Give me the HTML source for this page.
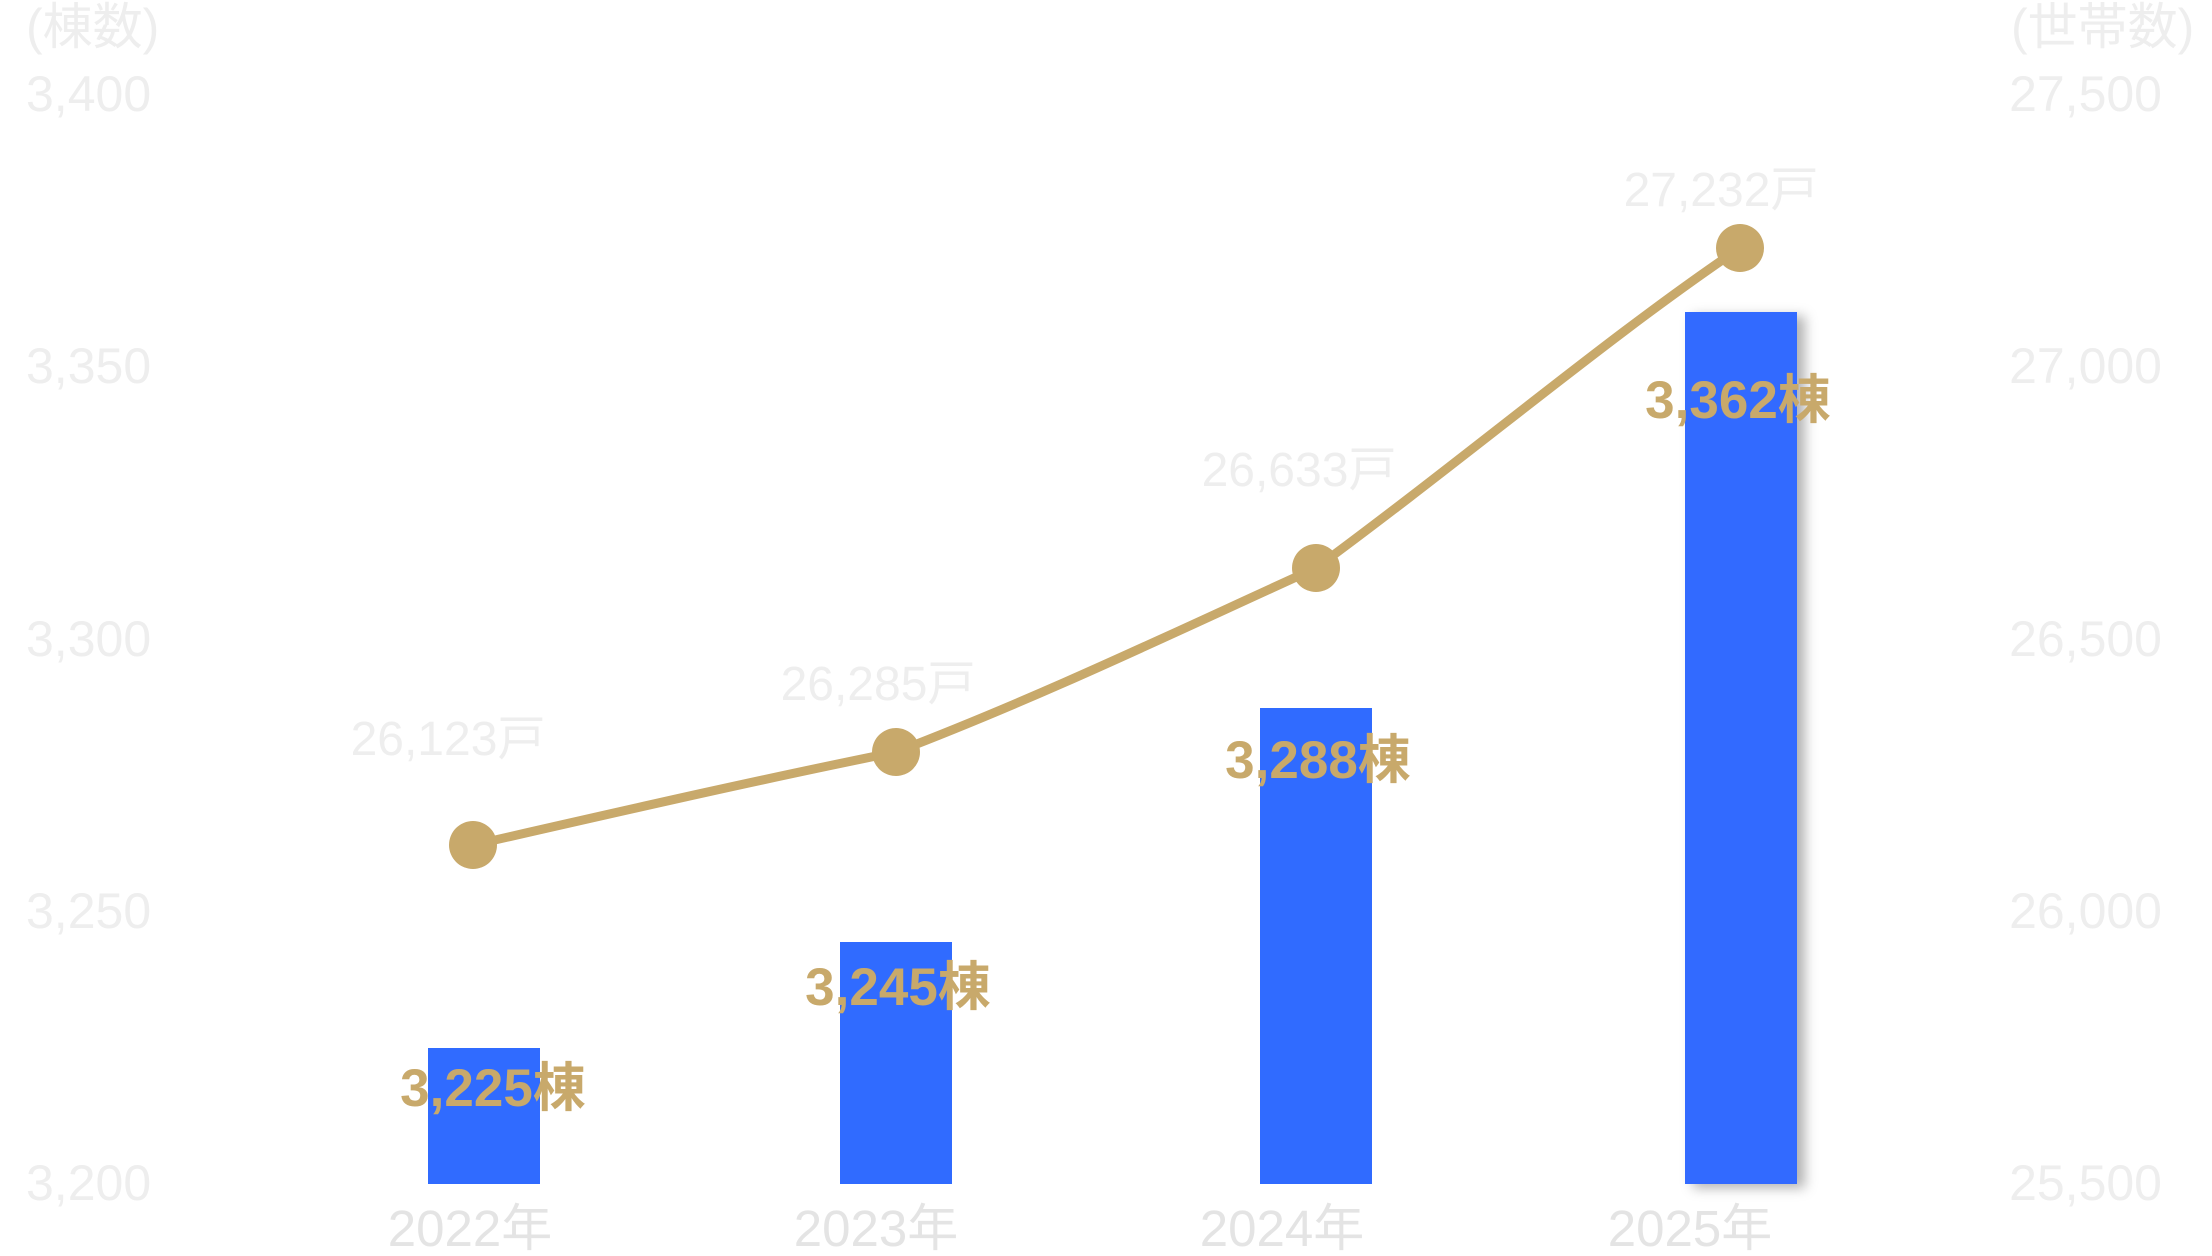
<!DOCTYPE html>
<html><head><meta charset="utf-8"><style>
html,body{margin:0;padding:0;background:#fff;}
svg{display:block;}
</style></head><body>
<svg width="2212" height="1256" viewBox="0 0 2212 1256" xmlns="http://www.w3.org/2000/svg" font-family="'Liberation Sans','Noto Sans CJK JP',sans-serif">
<defs>
<filter id="sh" x="-30%" y="-10%" width="160%" height="120%">
<feDropShadow dx="8" dy="4" stdDeviation="6" flood-color="#000" flood-opacity="0.3"/>
</filter>
</defs>
<g fill="#eeeeee" font-size="50">
<text x="26" y="44" font-size="50">(棟数)</text>
<text x="2011" y="44" font-size="50">(世帯数)</text>
<text x="26" y="111">3,400</text>
<text x="26" y="383">3,350</text>
<text x="26" y="656">3,300</text>
<text x="26" y="928">3,250</text>
<text x="26" y="1200">3,200</text>
<text x="2162" y="111" text-anchor="end">27,500</text>
<text x="2162" y="383" text-anchor="end">27,000</text>
<text x="2162" y="656" text-anchor="end">26,500</text>
<text x="2162" y="928" text-anchor="end">26,000</text>
<text x="2162" y="1200" text-anchor="end">25,500</text>
</g>
<g fill="#e4e4e4" font-size="51" text-anchor="middle">
<text x="470" y="1246">2022年</text>
<text x="876" y="1246">2023年</text>
<text x="1282" y="1246">2024年</text>
<text x="1690" y="1246">2025年</text>
</g>
<g fill="#306bff">
<rect x="428" y="1048" width="112" height="136"/>
<rect x="840" y="942" width="112" height="242"/>
<rect x="1260" y="708" width="112" height="476"/>
<rect x="1685" y="312" width="112" height="872" filter="url(#sh)"/>
</g>
<path d="M473,845 C618,812 757,780 896,752 C1045,695 1175,632 1316,568 C1472,453 1612,334 1740,248" fill="none" stroke="#c8a96b" stroke-width="9"/>
<g fill="#c8a96b">
<circle cx="473" cy="845" r="24"/>
<circle cx="896" cy="752" r="24"/>
<circle cx="1316" cy="568" r="24"/>
<circle cx="1740" cy="248" r="24"/>
</g>
<g fill="#eeeeee" font-size="48" text-anchor="middle">
<text x="448" y="755">26,123戸</text>
<text x="878" y="700">26,285戸</text>
<text x="1299" y="486">26,633戸</text>
<text x="1721" y="206">27,232戸</text>
</g>
<g fill="#c8a96b" font-size="53" font-weight="bold" text-anchor="middle">
<text x="493" y="1106">3,225棟</text>
<text x="898" y="1005">3,245棟</text>
<text x="1318" y="778">3,288棟</text>
<text x="1738" y="418">3,362棟</text>
</g>
</svg>
</body></html>
